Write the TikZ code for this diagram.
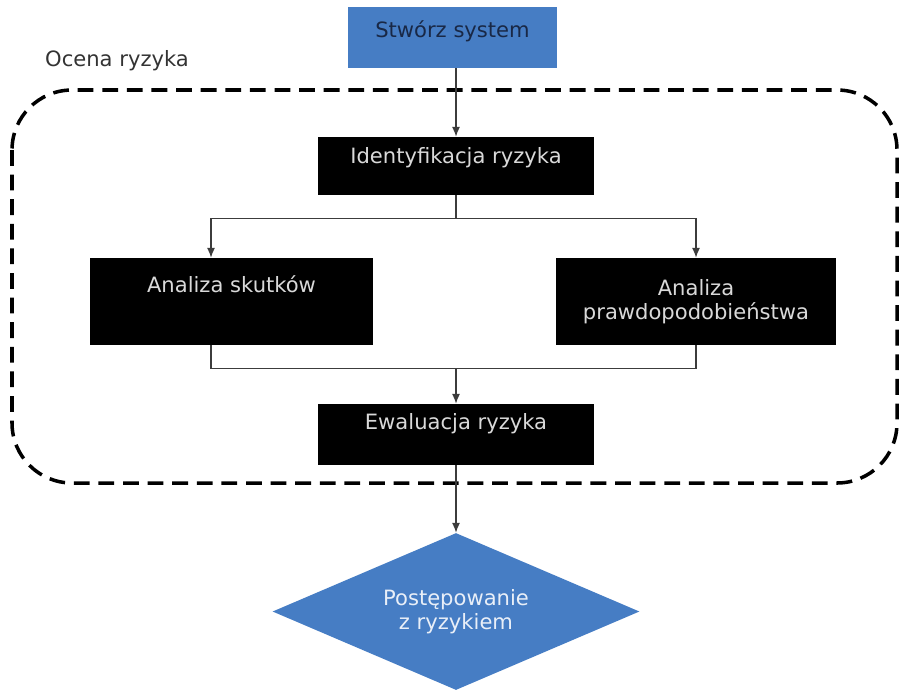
\documentclass[tikz,border=0pt]{standalone}
\usepackage{fontspec}
\setmainfont{DejaVu Sans}
\usetikzlibrary{shapes.geometric, arrows.meta, positioning}

\definecolor{stepblue}{RGB}{70,125,196}
\definecolor{navytext}{RGB}{25,40,70}
\definecolor{linegray}{RGB}{60,60,60}

\begin{document}
\begin{tikzpicture}[
  font=\fontsize{12}{13.5}\selectfont,
  bluebox/.style={rectangle, fill=stepblue, text=navytext, minimum width=4.18cm, minimum height=1.22cm},
  blackbox/.style={rectangle, fill=black, text=black!15, align=center},
  decision/.style={diamond, aspect=2.34, fill=stepblue, text=white!88!stepblue, align=center, minimum width=7.34cm, minimum height=3.14cm, inner sep=0pt},
  conn/.style={draw=linegray, line width=0.7pt},
  arr/.style={conn, -{Latex[length=5.5pt,width=4.5pt]}},
  lift/.style={text depth=#1}
]
\useasboundingbox (0,0) rectangle (18.02,-13.82);

% Start
\node[bluebox, lift=0.33cm] (start) at (9.05,-0.75) {Stwórz system};

% Risk assessment frame
\node[anchor=west, text=black!80] (ocena) at (0.78,-1.22) {Ocena ryzyka};
\draw[line width=2pt, dash pattern=on 9pt off 5pt, rounded corners=1.2cm] (0.24,-1.8) rectangle (17.94,-9.66);

% Steps inside the frame
\node[blackbox, minimum width=5.52cm, minimum height=1.16cm, lift=0.41cm] (ident) at (9.12,-3.32) {Identyfikacja ryzyka};
\node[blackbox, minimum width=5.66cm, minimum height=1.74cm, lift=0.71cm] (skutki) at (4.63,-6.03) {Analiza skutków};
\node[blackbox, minimum width=5.6cm, minimum height=1.74cm] (prawdo) at (13.92,-6.03) {Analiza\\prawdopodobieństwa};
\node[blackbox, minimum width=5.52cm, minimum height=1.22cm, lift=0.53cm] (ewal) at (9.12,-8.69) {Ewaluacja ryzyka};

% Decision
\node[decision] (decision) at (9.12,-12.23) {Postępowanie\\z ryzykiem};

% Connectors
\draw[arr] (start.south -| ident.north) -- (ident.north);
\draw[conn] (ident.south) -- ++(0,-0.46) coordinate (fork);
\draw[arr] (fork) -| ([xshift=-0.41cm]skutki.north);
\draw[arr] (fork) -| (prawdo.north);
\draw[conn] ([xshift=-0.41cm]skutki.south) -- ++(0,-0.46) coordinate (joinL) -- (joinL -| prawdo.south) -- (prawdo.south);
\draw[arr] (joinL -| ewal.north) -- (ewal.north);
\draw[arr] (ewal.south) -- (decision.north);
\end{tikzpicture}
\end{document}
